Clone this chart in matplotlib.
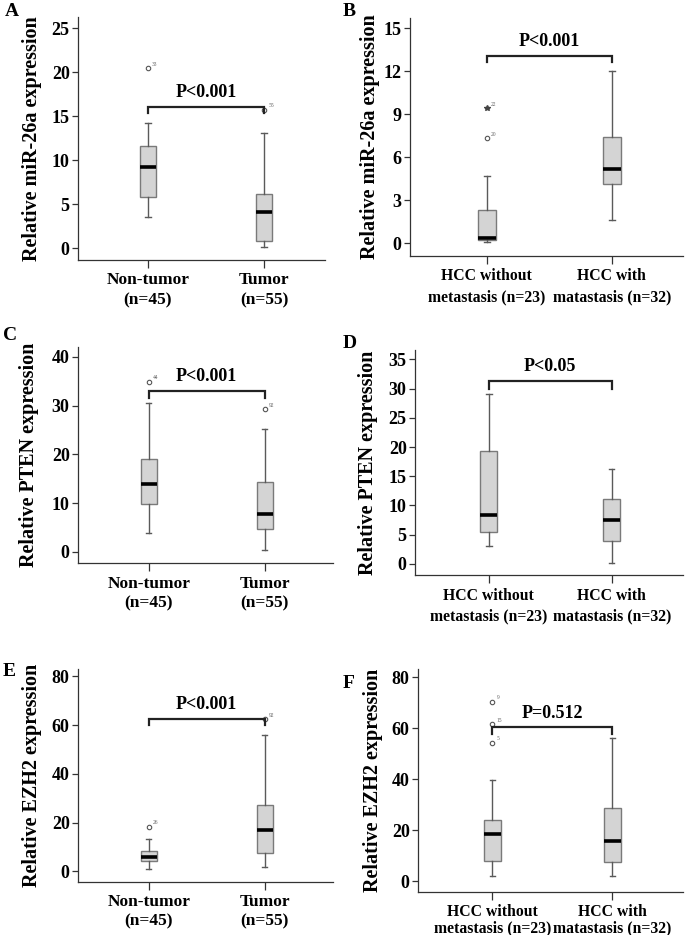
import matplotlib
matplotlib.use("Agg")
import matplotlib.pyplot as plt

plt.rcParams['font.family'] = ['Liberation Serif', 'DejaVu Serif']
plt.rcParams['font.weight'] = 'bold'

# box statistics per panel: (whislo, q1, med, q3, whishi)
stats_A = [(3.5, 5.8, 9.2, 11.6, 14.2), (0.1, 0.8, 4.1, 6.1, 13.1)]
stats_B = [(0.1, 0.2, 0.35, 2.3, 4.7), (1.6, 4.1, 5.2, 7.4, 12.0)]
stats_C = [(3.8, 9.7, 14.0, 19.0, 30.6), (0.3, 4.7, 7.8, 14.3, 25.2)]
stats_D = [(3.0, 5.5, 8.3, 19.4, 29.1), (0.2, 4.0, 7.5, 11.1, 16.2)]
stats_E = [(0.8, 4.1, 5.9, 8.5, 13.2), (1.8, 7.7, 17.0, 27.0, 56.1)]
stats_F = [(2.2, 8.1, 18.4, 23.9, 39.9), (2.0, 7.5, 15.9, 28.9, 56.1)]

# outliers: (group, value, case label, marker)
out_A = [(1, 20.4, '33', 'o'), (2, 15.7, '55', 'o')]
out_B = [(1, 7.3, '20', 'o'), (1, 9.4, '22', '*')]
out_C = [(1, 34.9, '44', 'o'), (2, 29.2, '92', 'o')]
out_D = []
out_E = [(1, 18.2, '26', 'o'), (2, 62.3, '92', 'o')]
out_F = [(1, 70.4, '9', 'o'), (1, 61.6, '15', 'o'), (1, 54.2, '5', 'o')]

# bracket (top, leg end) and p-value text
bracket_A = (16.0, 15.3, 'P<0.001')
bracket_B = (13.05, 12.6, 'P<0.001')
bracket_C = (33.0, 31.5, 'P<0.001')
bracket_D = (31.3, 29.9, 'P<0.05')
bracket_E = (62.6, 60.1, 'P<0.001')
bracket_F = (60.5, 57.7, 'P=0.512')

labels_tumor = ['Non-tumor\n(n=45)', 'Tumor\n(n=55)']
labels_meta = ['HCC without\nmetastasis (n=23)', 'HCC with\nmatastasis (n=32)']

yticks_A = [0, 5, 10, 15, 20, 25]
yticks_B = [0, 3, 6, 9, 12, 15]
yticks_C = [0, 10, 20, 30, 40]
yticks_D = [0, 5, 10, 15, 20, 25, 30, 35]
yticks_E = [0, 20, 40, 60, 80]
yticks_F = [0, 20, 40, 60, 80]

W, H = 685, 935

# letter, pixel box (left, top, right, bottom), ylim, xlim, ylabel right-edge offset px,
# ylabel text, letter pos, x label size, x label line spacing
panels = [
    ('A', (78, 17, 325, 260), (-1.36, 26.25), (0.397, 2.526), 36, 'Relative miR-26a expression', (5, 12),
     stats_A, out_A, bracket_A, labels_tumor, yticks_A, 12.5, 1.3),
    ('B', (410, 18, 683, 256), (-0.9, 15.7), (0.384, 2.57), 30, 'Relative miR-26a expression', (343, 12),
     stats_B, out_B, bracket_B, labels_meta, yticks_B, 11.3, 1.4),
    ('C', (78, 347, 333, 563), (-2.3, 42.0), (0.39, 2.59), 39, 'Relative PTEN expression', (3, 335),
     stats_C, out_C, bracket_C, labels_tumor, yticks_C, 12.5, 1.3),
    ('D', (415, 350, 683, 575), (-1.9, 36.6), (0.40, 2.58), 37, 'Relative PTEN expression', (343, 343),
     stats_D, out_D, bracket_D, labels_meta, yticks_D, 11.3, 1.4),
    ('E', (78, 669, 333, 882), (-4.4, 83.0), (0.39, 2.59), 36, 'Relative EZH2 expression', (3, 672),
     stats_E, out_E, bracket_E, labels_tumor, yticks_E, 12.5, 1.2),
    ('F', (418, 669, 683, 892), (-4.2, 83.3), (0.38, 2.59), 35, 'Relative EZH2 expression', (343, 683),
     stats_F, out_F, bracket_F, labels_meta, yticks_F, 11.3, 1.0),
]

fig = plt.figure(figsize=(W / 100, H / 100), dpi=100)

for (letter, box, ylim, xlim, yoff, ylab, lpos, stats, outs, brk, xlabels, yticks, xfs, lsp) in panels:
    l, t, r, b = box
    ax = fig.add_axes([l / W, 1 - b / H, (r - l) / W, (b - t) / H])

    bxp_stats = []
    for lo, q1, med, q3, hi in stats:
        bxp_stats.append(dict(whislo=lo, q1=q1, med=med, q3=q3, whishi=hi, fliers=[]))
    ax.bxp(bxp_stats, positions=[1, 2], widths=0.14, capwidths=0.045,
           showfliers=False, patch_artist=True,
           boxprops=dict(facecolor='#d4d4d4', edgecolor='#7a7a7a', linewidth=1.0),
           medianprops=dict(color='black', linewidth=2.6),
           whiskerprops=dict(color='#5a5a5a', linewidth=1.0),
           capprops=dict(color='#5a5a5a', linewidth=1.0))

    for g, v, lab, mk in outs:
        if mk == '*':
            ax.plot(g, v, marker='*', ms=4, color='#444444', mec='#444444')
        else:
            ax.plot(g, v, marker='o', ms=3.2, mfc='none', mec='#555555', mew=0.8)
        ax.annotate(lab, (g, v), xytext=(3, 2), textcoords='offset points',
                    fontsize=4, color='#666666', fontweight='normal')

    top, leg, ptxt = brk
    ax.plot([1, 1, 2, 2], [leg, top, top, leg], color='#222222', lw=1.6,
            solid_joinstyle='miter')
    ax.text(1.5, top + (ylim[1] - ylim[0]) * 0.025, ptxt, ha='center', va='bottom',
            fontsize=13, fontweight='bold')

    ax.set_xlim(*xlim)
    ax.set_ylim(*ylim)
    ax.set_yticks(yticks)
    ax.set_yticklabels([str(v) for v in yticks], fontsize=13, fontweight='bold')
    ax.set_xticks([1, 2])
    ax.set_xticklabels(xlabels, fontsize=xfs, fontweight='bold', linespacing=lsp)
    ax.tick_params(axis='both', direction='out', length=4, width=0.9, color='#333333', pad=2)
    ax.tick_params(axis='x', length=6, pad=3)
    for s in ['top', 'right']:
        ax.spines[s].set_visible(False)
    for s in ['left', 'bottom']:
        ax.spines[s].set_color('#333333')
        ax.spines[s].set_linewidth(0.9)

    ax.set_ylabel(ylab, fontsize=14.5, fontweight='bold')
    ax.yaxis.set_label_coords(-yoff / (r - l), 0.5)

    fig.text(lpos[0] / W, 1 - lpos[1] / H, letter, fontsize=14, fontweight='bold',
             ha='left', va='center')

fig.savefig('out.png', dpi=100)
